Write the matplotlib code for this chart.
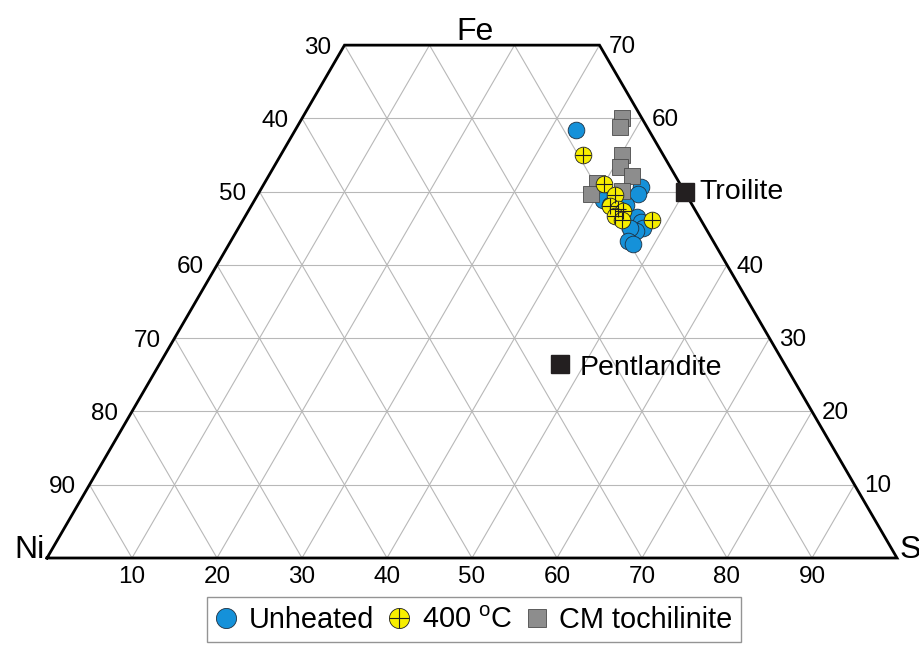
import numpy as np
import matplotlib
matplotlib.use('Agg')
import matplotlib.pyplot as plt
from matplotlib.lines import Line2D

plt.rcParams['font.family'] = ['Liberation Sans', 'DejaVu Sans']
plt.rcParams['mathtext.fontset'] = 'custom'
plt.rcParams['mathtext.rm'] = 'Liberation Sans'

# ---- data: atomic % (S, Fe); Ni = 100 - S - Fe ----
unheated_S = [33.0, 44.5, 44.7, 41.0, 42.1, 44.0, 46.1, 46.9, 47.6, 47.0, 46.0, 46.7, 47.5]
unheated_Fe = [58.4, 50.7, 49.7, 48.9, 48.2, 48.2, 46.6, 45.9, 45.0, 44.6, 45.1, 43.3, 42.9]
heated_S = [35.6, 40.0, 42.1, 42.2, 43.3, 44.1, 43.5, 44.6, 48.1]
heated_Fe = [55.0, 51.1, 49.5, 48.1, 47.7, 47.3, 46.7, 46.1, 46.1]
toch_S = [37.6, 38.0, 40.1, 40.8, 42.7, 39.1, 39.1, 42.6]
toch_Fe = [60.1, 58.8, 55.0, 53.3, 52.2, 51.2, 49.7, 50.1]
ref_names = ['Troilite', 'Pentlandite']
ref_S = [50.0, 47.1]
ref_Fe = [50.0, 26.5]

fe_max = 70
grid_vals = [10, 20, 30, 40, 50, 60, 70, 80, 90]
bottom_ticks = [10, 20, 30, 40, 50, 60, 70, 80, 90]      # S
left_ticks = [30, 40, 50, 60, 70, 80, 90]                # Ni
right_ticks = [70, 60, 40, 30, 20, 10]                   # Fe

H = np.sqrt(3) / 2


def xy(S, Fe):
    S = np.asarray(S, dtype=float)
    Fe = np.asarray(Fe, dtype=float)
    return S + Fe / 2, Fe * H


fig = plt.figure(figsize=(9.2, 6.45), dpi=100)
ax = fig.add_axes([0, 0, 1, 1])
ax.set_xlim(-47 / 8.5, 873 / 8.5)
ax.set_ylim(-87 / 8.46, 558 / 8.46)
ax.axis('off')

gcol = '#b8b8b8'
glw = 0.8
# constant Fe (horizontal)
for f in grid_vals:
    if f >= fe_max:
        continue
    x, y = xy([0, 100 - f], [f, f])
    ax.plot(x, y, color=gcol, lw=glw, zorder=1)
# constant S
for s in grid_vals:
    top = min(100 - s, fe_max)
    x, y = xy([s, s], [0, top])
    ax.plot(x, y, color=gcol, lw=glw, zorder=1)
# constant Ni
for n in grid_vals:
    top = min(100 - n, fe_max)
    x, y = xy([100 - n, 100 - n - top], [0, top])
    ax.plot(x, y, color=gcol, lw=glw, zorder=1)

# outline
ox, oy = xy([0, 100, 100 - fe_max, 0, 0], [0, 0, fe_max, fe_max, 0])
ax.plot(ox, oy, color='black', lw=2.0, solid_joinstyle='miter', zorder=2)

# tick labels
tfs = 17.5
for s in bottom_ticks:
    x, y = xy(s, 0)
    ax.text(x, y - 2.3, str(s), ha='center', va='center', fontsize=tfs)
for n in left_ticks:
    x, y = xy(0, 100 - n)
    ax.text(x - 1.6, y - 0.3, str(n), ha='right', va='center', fontsize=tfs)
for f in right_ticks:
    x, y = xy(100 - f, f)
    ax.text(x + 1.1, y - 0.2, str(f), ha='left', va='center', fontsize=tfs)

# apex labels
efs = 23
ax.text(50.35, 62.2, 'Fe', ha='center', va='center', fontsize=efs)
ax.text(-0.3, 0.95, 'Ni', ha='right', va='center', fontsize=efs)
ax.text(100.3, 0.95, 'S', ha='left', va='center', fontsize=efs)

# data
blue = '#1591d9'
yellow = '#f7ee00'
grey = '#8d8d8d'
ux, uy = xy(unheated_S, unheated_Fe)
ax.plot(ux, uy, 'o', ms=12, mfc=blue, mec='#1f2f3f', mew=0.6, ls='none', zorder=3)
tx, ty = xy(toch_S, toch_Fe)
ax.plot(tx, ty, 's', ms=12, mfc=grey, mec='#4a4a4a', mew=0.6, ls='none', zorder=4)
hx, hy = xy(heated_S, heated_Fe)
ax.plot(hx, hy, 'o', ms=12, mfc=yellow, mec='#202020', mew=0.6, ls='none', zorder=5)
ax.plot(hx, hy, '+', ms=12, mec='#202020', mew=0.8, ls='none', zorder=6)

rx, ry = xy(ref_S, ref_Fe)
ax.plot(rx, ry, 's', ms=12.5, mfc='#231f20', mec='#231f20', ls='none', zorder=6)
lfs = 20.5
ax.text(rx[0] + 1.8, ry[0], ref_names[0], ha='left', va='center', fontsize=lfs)
ax.text(rx[1] + 2.3, ry[1] - 0.5, ref_names[1], ha='left', va='center', fontsize=lfs)

# legend
h_blue = Line2D([], [], marker='o', ms=14.5, mfc=blue, mec='#1f2f3f', mew=0.6, ls='none')
h_yel = Line2D([], [], marker='o', ms=14.5, mfc=yellow, mec='#202020', mew=0.6, ls='none')
h_plus = Line2D([], [], marker='+', ms=14.5, mec='#202020', mew=0.8, ls='none')
h_grey = Line2D([], [], marker='s', ms=12.5, mfc=grey, mec='#4a4a4a', mew=0.6, ls='none')
leg = fig.legend([h_blue, (h_yel, h_plus), h_grey],
                 ['Unheated', '400 $^{\\mathrm{o}}$C', 'CM tochilinite'],
                 loc='upper center', bbox_to_anchor=(474 / 920, 1 - 597 / 645),
                 ncol=3, fontsize=20.8, frameon=True, fancybox=False,
                 handlelength=0.75, handletextpad=0.4, columnspacing=0.5,
                 borderpad=0.3, borderaxespad=0)
leg.get_frame().set_edgecolor('#7a7a7a')
leg.get_frame().set_linewidth(1.0)

fig.savefig('out.png', dpi=100)
